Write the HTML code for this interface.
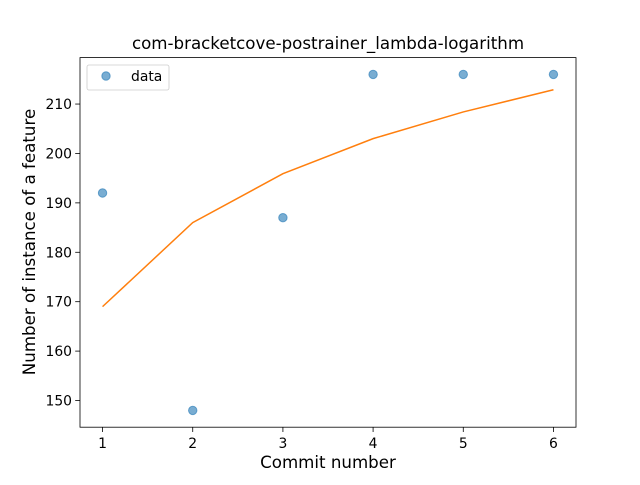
<!DOCTYPE html>
<html><head><meta charset="utf-8"><style>
body{margin:0;background:#fff;}
svg text{font-family:"DejaVu Sans","Liberation Sans",sans-serif;}
</style></head><body>
<svg id="chart" width="640" height="480" xmlns="http://www.w3.org/2000/svg">
<rect width="640" height="480" fill="#fff"/>
<text x="328" y="49" text-anchor="middle" font-size="16.67">com-bracketcove-postrainer_lambda-logarithm</text>
<g id="plot"></g>
<rect x="80" y="57.6" width="496" height="369.6" fill="none" stroke="#000" stroke-width="0.8"/>
<text x="328" y="468" text-anchor="middle" font-size="16.67">Commit number</text>
<text x="35" y="242" text-anchor="middle" font-size="16.67" transform="rotate(-90 35 242)">Number of instance of a feature</text>
<g>
<rect x="87" y="65" width="82" height="25" rx="2" fill="#fff" stroke="#ccc" stroke-width="0.8"/>
<circle cx="106" cy="76" r="4.2" fill="#1f77b4" fill-opacity="0.6" stroke="#1f77b4" stroke-opacity="0.6"/>
<text x="131" y="81" font-size="13.9">data</text>
</g>
</svg>
<script>
const xs = [1, 2, 3, 4, 5, 6];
const dataValues = [192, 148, 187, 216, 216, 216];
const fitValues = [169, 186, 195.9, 203, 208.4, 212.9];
const xTicks = [1, 2, 3, 4, 5, 6];
const yTicks = [150, 160, 170, 180, 190, 200, 210];
const X = v => 80 + (v - 0.75) / 5.5 * 496;
const Y = v => 427.2 - (v - 144.6) / (219.4 - 144.6) * 369.6;
const NS = "http://www.w3.org/2000/svg";
const g = document.getElementById('plot');
function mk(tag, attrs){const e=document.createElementNS(NS,tag);for(const k in attrs)e.setAttribute(k,attrs[k]);g.appendChild(e);return e;}
xTicks.forEach(t=>{
  const l=mk('line',{x1:X(t),x2:X(t),y1:427.2,y2:432,stroke:'#000','stroke-width':0.8});
  
  
  const tx=mk('text',{x:X(t),y:448,'text-anchor':'middle','font-size':13.9});
  tx.textContent=t;
  
  
});
yTicks.forEach(t=>{
  const l=mk('line',{x1:75.2,x2:80,y1:Y(t),y2:Y(t),stroke:'#000','stroke-width':0.8});
  
  
  const tx=mk('text',{x:72,y:Y(t)+5,'text-anchor':'end','font-size':13.9});
  tx.textContent=t;
  
  
});
const p=mk('polyline',{points:xs.map((x,i)=>X(x)+','+Y(fitValues[i])).join(' '),fill:'none',stroke:'#ff7f0e','stroke-width':1.5});


xs.forEach((x,i)=>{
  const c=mk('circle',{cx:X(x),cy:Y(dataValues[i]),r:4.2,fill:'#1f77b4','fill-opacity':0.6,stroke:'#1f77b4','stroke-opacity':0.6});
  
  
});
</script>
</body></html>
